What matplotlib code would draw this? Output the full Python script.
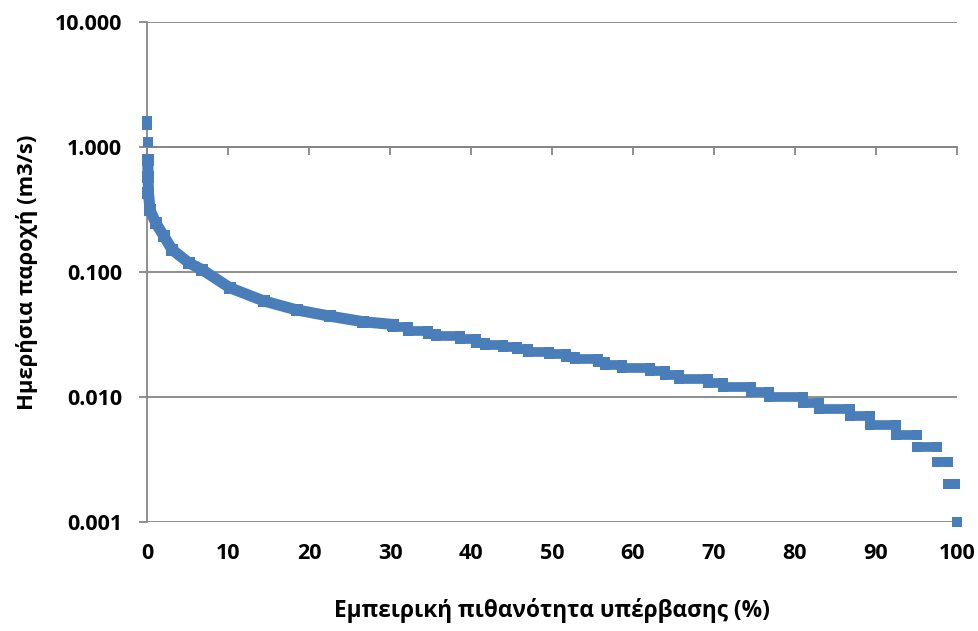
import matplotlib
matplotlib.use("Agg")
import matplotlib.pyplot as plt
from matplotlib.ticker import FixedLocator, FixedFormatter, NullLocator

# Daily flow duration curve: empirical exceedance probability (%) vs daily flow (m3/s)

# Highest daily flows (isolated points at the top of the curve)
peak_exceed = [0.03, 0.06, 0.09]
peak_flow = [1.60, 1.50, 1.10]

# Smoothly varying part of the curve
curve_exceed = [0.10, 0.13, 0.18, 0.37, 1.07, 2.1, 3.1, 5.2, 6.8, 10.2,
                14.4, 18.5, 22.6, 26.7, 30.4]
curve_flow = [0.78, 0.58, 0.43, 0.315, 0.247, 0.193, 0.151, 0.118, 0.1045,
              0.075, 0.0587, 0.0497, 0.0443, 0.040, 0.038]

# Low-flow part: flows recorded at 0.001 m3/s resolution, each value held
# over a range of exceedance probabilities
level_flow = [0.038, 0.036, 0.034, 0.032, 0.031, 0.029, 0.027, 0.026, 0.025,
              0.024, 0.023, 0.022, 0.021, 0.020, 0.019, 0.018, 0.017, 0.016,
              0.015, 0.014, 0.013, 0.012, 0.011, 0.010, 0.009, 0.008, 0.007,
              0.006, 0.005, 0.004, 0.003, 0.002, 0.001]
level_start = [30.40, 30.43, 32.28, 34.75, 35.62, 38.70, 40.56, 41.79, 44.01,
               45.74, 46.98, 49.57, 51.67, 52.90, 55.62, 56.60, 58.70, 62.16,
               64.01, 65.62, 69.32, 71.17, 74.51, 76.85, 81.05, 83.02, 86.85,
               89.32, 92.41, 95.12, 97.59, 98.95, 99.95]
level_end = [30.43, 32.28, 34.75, 35.62, 38.70, 40.56, 41.79, 44.01, 45.74,
             46.98, 49.57, 51.67, 52.90, 55.62, 56.60, 58.70, 62.16, 64.01,
             65.62, 69.32, 71.17, 74.51, 76.85, 81.05, 83.02, 86.85, 89.32,
             92.41, 95.12, 97.59, 98.95, 99.75, 99.95]

x_ticks = [0, 10, 20, 30, 40, 50, 60, 70, 80, 90, 100]
y_ticks = [0.001, 0.01, 0.1, 1.0, 10.0]
y_tick_labels = ["0.001", "0.010", "0.100", "1.000", "10.000"]

x_label = "Εμπειρική πιθανότητα υπέρβασης (%)"
y_label = "Ημερήσια παροχή (m3/s)"

FONT = ["Open Sans", "DejaVu Sans"]
plt.rcParams["font.family"] = FONT

BLUE = "#4A7EBB"
GREY = "#868686"
MS = 7.0      # marker side in points
CURVE_LW = 8.0

fig = plt.figure(figsize=(9.79, 6.31), dpi=100)
ax = fig.add_axes([0.15015, 0.17274, 0.82737, 0.79239])

ax.set_yscale("log")
ax.set_xlim(0, 100)
ax.set_ylim(0.001, 10)

# horizontal gridlines at each decade
for v in y_ticks:
    ax.axhline(v, color=GREY, lw=1.3, zorder=1)

ax.plot(peak_exceed, peak_flow, ls="none", marker="s", ms=MS, mew=0,
        color=BLUE, zorder=3, clip_on=False)
ax.plot(curve_exceed, curve_flow, color=BLUE, lw=CURVE_LW, marker="s",
        ms=MS + 1, mew=0, solid_capstyle="butt", solid_joinstyle="round",
        zorder=3, clip_on=False)
for q, s, e in zip(level_flow, level_start, level_end):
    ax.plot([s, e], [q, q], color=BLUE, lw=MS, marker="s", ms=MS, mew=0,
            solid_capstyle="butt", zorder=3, clip_on=False)

# spines: vertical axis on the left, horizontal axis crossing at 1.0
for side in ("top", "right"):
    ax.spines[side].set_visible(False)
ax.spines["left"].set_color(GREY)
ax.spines["left"].set_linewidth(1.3)
ax.spines["bottom"].set_position(("data", 1.0))
ax.spines["bottom"].set_color(GREY)
ax.spines["bottom"].set_linewidth(1.3)

ax.yaxis.set_major_locator(FixedLocator(y_ticks))
ax.yaxis.set_major_formatter(FixedFormatter(y_tick_labels))
ax.yaxis.set_minor_locator(NullLocator())
ax.tick_params(axis="y", direction="out", length=6, width=1.3, color=GREY,
               pad=12, labelsize=15.5)
for t in ax.get_yticklabels():
    t.set_fontweight("bold")

ax.xaxis.set_major_locator(FixedLocator(x_ticks))
ax.tick_params(axis="x", direction="out", length=6, width=1.3, color=GREY,
               labelbottom=False)

# tick labels for the horizontal axis sit below the plot area
sec = ax.secondary_xaxis(0)
sec.spines["bottom"].set_visible(False)
sec.xaxis.set_major_locator(FixedLocator(x_ticks))
sec.tick_params(axis="x", length=0, pad=15, labelsize=15.5)
for t in sec.get_xticklabels():
    t.set_fontweight("bold")

fig.text(0.5633, 0.033, x_label, ha="center", va="center", fontsize=16.3,
         fontweight="bold")
fig.text(0.028, 0.569, y_label, ha="center", va="center", rotation=90,
         fontsize=15.8, fontweight="bold")

fig.savefig("out.png", dpi=100)
